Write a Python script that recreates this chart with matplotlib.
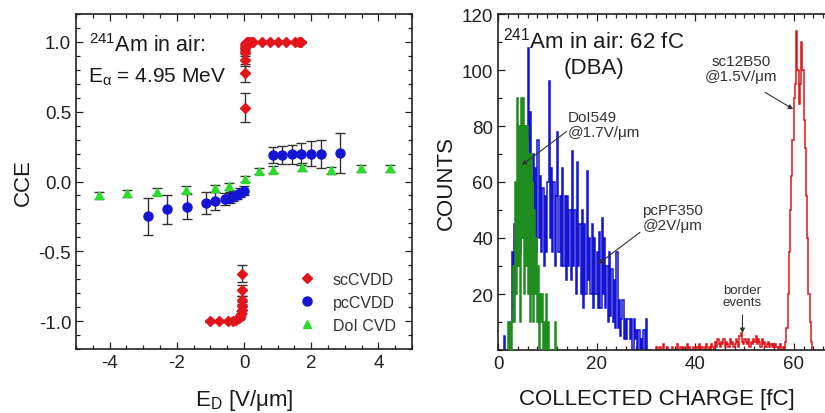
import numpy as np
import matplotlib
matplotlib.use("Agg")
import matplotlib.pyplot as plt
from matplotlib.ticker import MultipleLocator
from matplotlib.lines import Line2D

plt.rcParams['font.family'] = ['Liberation Sans', 'DejaVu Sans']
plt.rcParams['mathtext.fontset'] = 'custom'
plt.rcParams['mathtext.rm'] = 'Liberation Sans'
plt.rcParams['mathtext.it'] = 'Liberation Sans:italic'
plt.rcParams['axes.unicode_minus'] = False

# ---- left panel data: CCE vs field ----
sc_pos_x = [0.02, 0.02, 0.02, 0.02, 0.03, 0.04, 0.06, 0.08, 0.11, 0.15, 0.2, 0.27, 0.53, 0.77, 1.0, 1.26, 1.53, 1.65, 1.7]
sc_pos_y = [0.53, 0.78, 0.87, 0.93, 0.96, 0.98, 0.99, 1.0, 1.0, 1.0, 1.0, 1.0, 1.0, 1.0, 1.0, 1.0, 1.0, 1.0, 1.0]
sc_pos_err = [0.105, 0.065, 0.04, 0.03, 0.02, 0.015, 0.01, 0.01, 0.01, 0.01, 0.01, 0.01, 0.01, 0.01, 0.01, 0.01, 0.01, 0.01, 0.01]

sc_neg_x = [-1.02, -0.74, -0.47, -0.33, -0.23, -0.16, -0.11, -0.08, -0.07, -0.06, -0.06, -0.06, -0.06]
sc_neg_y = [-1.0, -1.0, -1.0, -1.0, -0.99, -0.98, -0.97, -0.95, -0.92, -0.89, -0.85, -0.78, -0.66]
sc_neg_err = [0.01, 0.01, 0.01, 0.01, 0.01, 0.01, 0.015, 0.02, 0.025, 0.03, 0.03, 0.04, 0.06]

pc_x = [-2.85, -2.28, -1.71, -1.14, -0.86, -0.57, -0.43, -0.33, -0.21, -0.11, 0.0,
        0.86, 1.14, 1.43, 1.71, 2.0, 2.28, 2.85]
pc_y = [-0.25, -0.20, -0.18, -0.155, -0.14, -0.125, -0.115, -0.105, -0.095, -0.08, -0.065,
        0.19, 0.19, 0.195, 0.195, 0.2, 0.2, 0.205]
pc_err = [0.135, 0.105, 0.09, 0.08, 0.065, 0.045, 0.04, 0.035, 0.03, 0.03, 0.03,
          0.055, 0.065, 0.07, 0.08, 0.09, 0.1, 0.145]

doi_x = [-4.33, -3.49, -2.6, -1.73, -0.87, -0.45, 0.02, 0.45, 0.86, 1.73, 2.59, 3.48, 4.34]
doi_y = [-0.10, -0.085, -0.075, -0.06, -0.05, -0.035, 0.02, 0.075, 0.085, 0.105, 0.08, 0.095, 0.095]
doi_err = [0.025, 0.025, 0.025, 0.025, 0.025, 0.025, 0.02, 0.02, 0.025, 0.03, 0.025, 0.025, 0.025]

legend_labels = ['scCVDD', 'pcCVDD', 'DoI CVD']

# ---- right panel data: pulse height spectra ----
blue_edges = np.linspace(1.0, 31.0, 121)
blue_counts = [0, 5, 0, 0,  0, 5, 10, 35,  15, 45, 20, 55,  30, 65, 35, 70,
               40, 80, 45, 75,  108, 45, 85, 50,  70, 40, 65, 35,  75, 40, 62, 35,
               58, 30, 55, 35,  60, 96, 40, 65,  35, 60, 30, 55,  78, 35, 55, 30,
               65, 30, 55, 25,  55, 30, 50, 25,  71, 30, 50, 20,  67, 30, 45, 20,
               50, 15, 45, 20,  64, 25, 40, 20,  45, 15, 40, 20,  35, 15, 42, 15,
               47, 20, 40, 15,  30, 10, 35, 12,  29, 10, 25, 8,  35, 8, 18, 5,
               11, 18, 4, 11,  4, 11, 11, 4,  11, 0, 11, 4,  7, 0, 7, 0,
               4, 0, 7, 0,  11, 0, 0, 0]

green_edges = np.linspace(2.0, 12.0, 51)
green_counts = [10, 0, 10, 0, 10,  30, 10, 60, 20, 90,  30, 80, 10, 90, 40,
                90, 20, 80, 30, 80,  20, 70, 10, 70, 20,  60, 10, 50, 20, 40,
                10, 30, 0, 20, 10,  20, 0, 10, 0, 20,  0, 10, 0, 0, 0,
                0, 0, 0, 10, 0]

red_edges = np.linspace(32.0, 64.5, 131)
red_counts = [1, 0, 0, 1, 0, 0, 2, 0, 0, 1, 0, 0, 0, 1, 0, 0,
              0, 2, 0, 0, 1, 0, 1, 0, 0, 2, 0, 1, 0, 0, 1, 0,
              0, 1, 0, 2, 0, 1, 0, 0, 1, 2, 0, 1, 0, 2, 1, 0,
              3, 1, 4, 2, 1, 3, 2, 4, 1, 3, 2, 1, 4, 2, 3, 1,
              2, 4, 3, 1, 5, 6, 3, 2, 4, 3, 2, 4, 1, 3, 2, 4,
              3, 5, 2, 4, 3, 1, 4, 2, 3, 1, 2, 3, 1, 2, 1, 2,
              1, 2, 1, 0, 1, 2, 0, 1,
              0, 3, 8, 20, 35, 50, 62, 75, 90, 95, 114, 100, 88, 95, 110, 100,
              82, 72, 55, 40, 20, 10, 3, 0, 0, 0]

RED = '#e3141b'
BLUE = '#1414d2'
LIME = '#2bdc2b'
TXT = '#1a1a1a'
GREY = '#333333'

fig = plt.figure(figsize=(8.25, 4.14), dpi=100)
ax1 = fig.add_axes([76 / 825, 64 / 414, 336 / 825, 335 / 414])
ax2 = fig.add_axes([498 / 825, 63 / 414, 345 / 825, 336 / 414])

for ax in (ax1, ax2):
    for s in ax.spines.values():
        s.set_linewidth(1.2)
        s.set_color('#222222')
    ax.tick_params(which='both', direction='in', top=True, right=True,
                   labelsize=13.5, colors='#222222', width=0.9)
    ax.tick_params(which='major', length=5)
    ax.tick_params(which='minor', length=2.8)

eb = dict(ecolor=GREY, elinewidth=1, capsize=3.5, capthick=1, linestyle='none')
ax1.errorbar(sc_pos_x, sc_pos_y, yerr=sc_pos_err, fmt='D', ms=5.5, color=RED, zorder=3, **eb)
ax1.errorbar(sc_neg_x, sc_neg_y, yerr=sc_neg_err, fmt='D', ms=5.5, color=RED, zorder=3, **eb)
ax1.errorbar(pc_x, pc_y, yerr=pc_err, fmt='o', ms=6.5, color=BLUE, zorder=3, **eb)
ax1.errorbar(doi_x, doi_y, yerr=doi_err, fmt='^', ms=5.5, color=LIME, zorder=3, **eb)

ax1.set_xlim(-5, 5)
ax1.set_ylim(-1.2, 1.2)
ax1.xaxis.set_major_locator(MultipleLocator(2))
ax1.xaxis.set_minor_locator(MultipleLocator(0.5))
ax1.yaxis.set_major_locator(MultipleLocator(0.5))
ax1.yaxis.set_minor_locator(MultipleLocator(0.1))
ax1.set_yticks([-1.0, -0.5, 0.0, 0.5, 1.0])
ax1.set_yticklabels(['-1.0', '-0.5', '0.0', '0.5', '1.0'])

ax1.set_xlabel(r'E$_{\mathregular{D}}$ [V/μm]', fontsize=16, color=TXT)
ax1.set_ylabel('CCE', fontsize=16, color=TXT)
ax1.xaxis.set_label_coords(0.5, -0.112)
ax1.yaxis.set_label_coords(-0.125, 0.5)

ax1.text(-4.6, 0.932, r'$^{\mathregular{241}}$Am in air:', fontsize=15.5, color=TXT, va='baseline')
ax1.text(-4.63, 0.712, r'E$_{\mathregular{α}}$ = 4.95 MeV', fontsize=15, color=TXT, va='baseline')

handles = [Line2D([], [], ls='none', marker='D', ms=5.5, color=RED),
           Line2D([], [], ls='none', marker='o', ms=6.5, color=BLUE),
           Line2D([], [], ls='none', marker='^', ms=5.5, color=LIME)]
ax1.legend(handles, legend_labels, loc='lower right', frameon=False, fontsize=11.5,
           handletextpad=0.6, labelspacing=0.5, borderaxespad=0.3, labelcolor=GREY,
           bbox_to_anchor=(0.985, 0.015))

# right panel
ax2.stairs(red_counts, red_edges, color=RED, lw=1.1, zorder=2)
ax2.stairs(blue_counts, blue_edges, color=BLUE, lw=1.1, zorder=2)
ax2.stairs(green_counts, green_edges, color='#1e8c1e', lw=1.1, zorder=3)

ax2.set_xlim(0, 70)
ax2.set_ylim(0, 120)
ax2.xaxis.set_major_locator(MultipleLocator(20))
ax2.xaxis.set_minor_locator(MultipleLocator(2))
ax2.set_yticks([20, 40, 60, 80, 100, 120])
ax2.yaxis.set_minor_locator(MultipleLocator(10))
ax2.set_xlabel('COLLECTED CHARGE [fC]', fontsize=16, color=TXT)
ax2.set_ylabel('COUNTS', fontsize=16, color=TXT)
ax2.xaxis.set_label_coords(0.46, -0.112)
ax2.yaxis.set_label_coords(-0.12, 0.5)

ax2.text(0.95, 108, r'$^{\mathregular{241}}$Am in air: 62 fC', fontsize=16, color=TXT, va='baseline')
ax2.text(19.5, 99, '(DBA)', fontsize=16, color=TXT, va='baseline', ha='center')

arr = dict(arrowstyle='-|>', color=GREY, lw=0.8, mutation_scale=7, shrinkA=0, shrinkB=0)
ax2.text(14.2, 85.7, 'DoI549\n@1.7V/μm', fontsize=11, color=GREY, ha='left', va='top', linespacing=1.05)
ax2.annotate('', xy=(4.8, 66), xytext=(13.9, 78), arrowprops=arr)
ax2.text(29.3, 52.5, 'pcPF350\n@2V/μm', fontsize=11, color=GREY, ha='left', va='top', linespacing=1.05)
ax2.annotate('', xy=(20.3, 30.7), xytext=(28.8, 42), arrowprops=arr)
ax2.text(49.4, 105.7, 'sc12B50\n@1.5V/μm', fontsize=11, color=GREY, ha='center', va='top', linespacing=1.05)
ax2.annotate('', xy=(59.9, 86), xytext=(54.2, 92), arrowprops=arr)
ax2.text(49.6, 23.6, 'border\nevents', fontsize=9.5, color=GREY, ha='center', va='top', linespacing=1.0)
ax2.annotate('', xy=(49.6, 6.0), xytext=(49.6, 12.5), arrowprops=arr)

fig.savefig('out.png', dpi=100)
